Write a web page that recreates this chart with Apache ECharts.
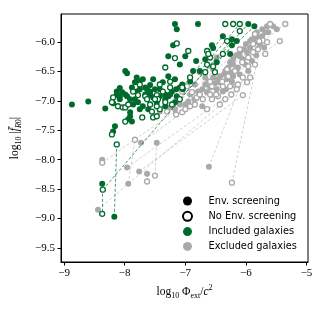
<!DOCTYPE html>
<html><head><meta charset="utf-8">
<script src="https://cdn.jsdelivr.net/npm/echarts@6/dist/echarts.min.js"></script>
<style>html,body{margin:0;padding:0;background:#fff}#c{width:324px;height:310px}</style>
</head><body><div id="c"></div>
<script>
const xTicks = [-9, -8, -7, -6, -5];
const yTicks = [-9.5, -9, -8.5, -8, -7.5, -7, -6.5, -6];
const legendLabels = ['Env. screening', 'No Env. screening', 'Included galaxies', 'Excluded galaxies'];

// Included galaxies, environmental screening (filled green)
const inclEnv = [[-7.17,-5.69],[-7.14,-5.78],[-6.79,-5.69],[-7.20,-6.05],[-7.28,-6.24],[-7.00,-6.24],[-7.09,-6.38],[-7.99,-6.49],[-7.96,-6.53],[-7.80,-6.60],[-7.76,-6.67],[-7.83,-6.68],[-7.70,-6.63],[-7.53,-6.63],[-7.37,-6.68],[-7.28,-6.58],[-7.58,-6.73],[-8.08,-6.78],[-8.13,-6.84],[-8.04,-6.85],[-8.13,-6.90],[-8.19,-7.04],[-7.96,-6.92],[-7.91,-6.97],[-7.80,-6.84],[-7.63,-6.80],[-7.83,-6.97],[-7.58,-6.84],[-7.53,-6.94],[-7.47,-7.02],[-7.33,-6.89],[-7.28,-6.92],[-7.22,-6.84],[-7.14,-6.92],[-7.17,-7.02],[-7.05,-6.72],[-7.04,-6.80],[-8.87,-7.06],[-8.60,-7.01],[-8.32,-7.13],[-7.70,-7.09],[-7.75,-7.14],[-7.33,-7.09],[-7.91,-7.26],[-7.94,-7.31],[-8.16,-7.43],[-8.19,-7.52],[-6.56,-6.05],[-6.54,-6.10],[-6.38,-5.90],[-6.15,-5.98],[-6.23,-6.05],[-6.26,-6.20],[-5.96,-5.69],[-5.86,-5.73],[-6.48,-6.34],[-6.76,-6.49],[-6.87,-6.49],[-8.37,-8.41],[-8.17,-8.97],[-7.66,-6.89],[-7.42,-6.80],[-7.17,-6.63],[-6.92,-6.67],[-6.82,-6.32],[-6.67,-6.29],[-6.23,-5.95],[-7.91,-7.19],[-7.88,-7.35],[-8.08,-6.92],[-8.08,-6.97],[-7.99,-6.89],[-7.88,-6.77],[-7.75,-6.80],[-7.66,-6.77],[-7.58,-6.89],[-7.50,-6.80],[-7.42,-6.92],[-7.33,-6.97],[-7.25,-6.89],[-7.15,-6.80],[-7.09,-6.77],[-7.86,-7.06],[-7.78,-7.02],[-7.61,-7.14]];
// Included galaxies, no environmental screening (hollow green)
const inclNoEnv = [[-7.14,-6.02],[-6.95,-6.15],[-7.17,-6.27],[-7.33,-6.43],[-7.25,-6.67],[-7.42,-6.72],[-7.75,-6.72],[-8.19,-6.94],[-8.11,-7.09],[-8.03,-7.11],[-8.21,-7.02],[-7.66,-6.92],[-7.47,-6.90],[-7.45,-6.97],[-7.86,-6.84],[-7.63,-6.97],[-7.37,-6.84],[-7.42,-7.14],[-7.58,-7.06],[-7.55,-7.18],[-7.47,-7.09],[-7.99,-7.35],[-8.21,-7.57],[-7.71,-7.28],[-7.53,-7.28],[-7.47,-7.26],[-6.92,-6.60],[-6.64,-6.38],[-6.59,-6.26],[-6.34,-5.69],[-6.21,-5.69],[-6.10,-5.69],[-6.10,-5.81],[-6.31,-5.98],[-6.64,-6.15],[-6.62,-6.20],[-6.38,-6.20],[-6.54,-6.41],[-6.67,-6.51],[-6.51,-6.51],[-7.05,-6.77],[-8.13,-7.74],[-8.36,-8.51],[-8.37,-8.92],[-7.22,-7.06],[-7.09,-6.97],[-7.99,-7.11],[-7.94,-7.06],[-7.78,-6.90],[-7.50,-6.97],[-7.33,-7.02],[-7.25,-6.77]];
// Excluded galaxies, environmental screening (filled gray)
const exclEnv = [[-5.65,-5.73],[-5.55,-5.73],[-5.68,-5.83],[-5.73,-5.90],[-5.80,-5.91],[-5.85,-6.00],[-5.93,-6.09],[-5.98,-6.17],[-6.05,-6.29],[-6.10,-6.24],[-6.15,-6.46],[-6.21,-6.58],[-6.26,-6.51],[-6.31,-6.63],[-6.43,-6.68],[-6.48,-6.80],[-6.64,-6.85],[-6.72,-7.09],[-6.38,-6.84],[-6.26,-6.34],[-6.21,-6.29],[-6.43,-6.58],[-6.54,-6.60],[-6.62,-6.67],[-6.76,-6.51],[-6.67,-6.60],[-6.54,-6.46],[-6.84,-6.72],[-6.72,-6.80],[-7.17,-7.14],[-6.48,-6.26],[-5.49,-5.78],[-5.77,-6.03],[-5.90,-5.95],[-6.01,-6.38],[-6.13,-6.43],[-6.34,-6.49],[-6.92,-6.89],[-7.00,-7.06],[-8.37,-8.00],[-7.96,-8.13],[-7.76,-8.20],[-7.63,-8.24],[-7.94,-8.41],[-7.73,-7.71],[-7.47,-7.71],[-8.44,-8.85],[-6.61,-8.12],[-5.73,-5.78],[-5.63,-5.83],[-5.82,-5.83],[-5.85,-5.91],[-5.93,-5.98],[-6.00,-6.03],[-6.03,-6.12],[-6.10,-6.17],[-6.16,-6.22],[-6.21,-6.38],[-6.29,-6.43],[-6.36,-6.55],[-6.46,-6.63],[-6.51,-6.70],[-6.59,-6.77],[-6.67,-6.72],[-6.79,-6.84],[-6.85,-6.97],[-6.95,-7.01],[-7.09,-7.06],[-7.25,-7.11],[-7.42,-7.18],[-5.70,-6.09],[-5.83,-6.22],[-5.90,-6.32],[-5.96,-6.49],[-6.10,-6.55],[-6.23,-6.67],[-6.33,-6.80]];
// Excluded galaxies, no environmental screening (hollow gray)
const exclNoEnv = [[-5.60,-5.69],[-5.35,-5.69],[-5.72,-5.97],[-5.65,-6.00],[-5.44,-5.98],[-5.88,-6.17],[-5.96,-6.41],[-6.38,-6.75],[-6.56,-6.75],[-6.71,-6.97],[-6.05,-6.60],[-5.98,-6.68],[-6.16,-6.75],[-6.15,-6.80],[-6.05,-6.90],[-6.56,-6.97],[-6.64,-7.14],[-6.10,-6.12],[-6.31,-6.46],[-6.46,-6.92],[-6.34,-6.97],[-6.26,-6.75],[-6.59,-6.67],[-6.97,-6.75],[-7.05,-6.84],[-6.89,-6.85],[-7.14,-6.94],[-6.81,-6.94],[-7.20,-7.06],[-6.92,-7.09],[-7.30,-7.18],[-7.05,-7.19],[-5.85,-5.86],[-5.80,-6.12],[-8.37,-8.05],[-7.63,-8.37],[-7.50,-8.27],[-7.83,-7.66],[-6.23,-8.39],[-5.78,-5.98],[-5.88,-6.03],[-5.96,-6.26],[-6.06,-6.34],[-6.18,-6.49],[-6.29,-6.58],[-6.39,-6.67],[-6.49,-6.89],[-6.59,-6.89],[-6.76,-6.89],[-6.84,-7.06],[-7.00,-7.14],[-7.15,-7.23],[-5.68,-6.20],[-5.85,-6.38],[-5.93,-6.60],[-6.13,-6.72],[-6.24,-6.89],[-6.43,-7.06]];
// Dashed links between screened / unscreened values of the same galaxy
const inclLinks = [[[-8.37,-8.41],[-8.37,-8.92]],[[-8.17,-8.97],[-8.13,-7.74]],[[-8.36,-8.51],[-6.23,-5.95]],[[-6.76,-6.49],[-6.10,-5.69]],[[-7.09,-6.97],[-5.96,-5.69]],[[-6.67,-6.51],[-5.86,-5.73]],[[-6.54,-6.41],[-6.15,-5.98]],[[-7.05,-6.77],[-6.38,-5.90]]];
const exclLinks = [[[-7.94,-8.41],[-7.83,-7.66]],[[-7.50,-8.27],[-7.47,-7.71]],[[-7.63,-8.24],[-7.63,-8.37]],[[-8.44,-8.85],[-5.98,-6.68]],[[-7.96,-8.13],[-6.15,-6.80]],[[-7.76,-8.20],[-6.05,-6.90]],[[-6.61,-8.12],[-5.88,-6.17]],[[-6.23,-8.39],[-5.73,-5.90]],[[-5.44,-5.98],[-7.73,-7.71]],[[-5.35,-5.69],[-7.17,-7.14]],[[-8.37,-8.05],[-6.26,-6.51]],[[-7.30,-7.18],[-5.65,-5.73]]];

const GREEN = '#006a2c', GRAY = '#a9a9a9', GRAYLINE = '#bdbdbd';
const serif = 'Liberation Serif';
const minus = v => (v < 0 ? '\u2212' : '') + Math.abs(v);

const chart = echarts.init(document.getElementById('c'), null, {renderer: 'canvas'});
const mathRich = {
  t: {fontFamily: serif, fontSize: 11.5, lineHeight: 16, color: '#000'},
  i: {fontFamily: serif, fontSize: 11.5, lineHeight: 16, fontStyle: 'italic', color: '#000'},
  s: {fontFamily: serif, fontSize: 8, lineHeight: 8, verticalAlign: 'bottom', color: '#000'},
  si: {fontFamily: serif, fontSize: 8, lineHeight: 8, verticalAlign: 'bottom', fontStyle: 'italic', color: '#000'},
  p: {fontFamily: serif, fontSize: 8, lineHeight: 8, verticalAlign: 'top', color: '#000'}
};
function scatter(name, data, color, hollow, z) {
  return {
    type: 'scatter', name: name, data: data, z: z, silent: true,
    symbol: 'circle', symbolSize: hollow ? 5 : 6,
    itemStyle: hollow ? {color: '#fff', borderColor: color, borderWidth: 1.3, opacity: 1}
                      : {color: color, opacity: 1}
  };
}
function links(data, color, z) {
  return {
    type: 'lines', coordinateSystem: 'cartesian2d', silent: true, z: z,
    data: data.map(p => ({coords: p})),
    lineStyle: {color: color, width: 0.7, type: [3, 2], opacity: 1}
  };
}
chart.setOption({
  animation: false,
  grid: {left: 61, top: 14, width: 247, height: 248, show: true, borderColor: '#000', borderWidth: 1, backgroundColor: 'transparent'},
  xAxis: {
    type: 'value', min: -9.05, max: -4.975,
    axisLine: {show: true, onZero: false, lineStyle: {color: '#000', width: 1}},
    axisTick: {show: true, length: 3.5, lineStyle: {color: '#000', width: 1}, customValues: xTicks},
    axisLabel: {customValues: xTicks, formatter: v => minus(v), color: '#000', fontFamily: serif, fontSize: 11, margin: 6},
    splitLine: {show: false},
    name: '{t|log}{s|10}{t| \u03A6}{s|ext}{t|/}{i|c}{p|2}',
    nameLocation: 'middle', nameGap: 18,
    nameTextStyle: {rich: mathRich}
  },
  yAxis: {
    type: 'value', min: -9.74, max: -5.52,
    axisLine: {show: true, onZero: false, lineStyle: {color: '#000', width: 1}},
    axisTick: {show: true, length: 3.5, lineStyle: {color: '#000', width: 1}, customValues: yTicks},
    axisLabel: {customValues: yTicks, formatter: v => (v < 0 ? '\u2212' : '') + Math.abs(v).toFixed(1), color: '#000', fontFamily: serif, fontSize: 11, margin: 6},
    splitLine: {show: false},
    name: '{t|log}{s|10}{t| |}{i|f\u0304}{si|R}{s|0}{t||}',
    nameLocation: 'middle', nameGap: 38, nameRotate: 90,
    nameTextStyle: {rich: mathRich}
  },
  legend: {
    orient: 'vertical', left: 177, top: 191,
    itemWidth: 32, itemHeight: 9, itemGap: 4.8,
    selectedMode: false,
    textStyle: {fontFamily: 'DejaVu Sans', fontSize: 9.8, color: '#000'},
    data: legendLabels.map(n => ({name: n, icon: 'circle'}))
  },
  series: [
    links(exclLinks, GRAYLINE, 1),
    scatter('exclEnv', exclEnv, GRAY, false, 2),
    scatter('exclNoEnv', exclNoEnv, GRAY, true, 2),
    links(inclLinks, GREEN, 3),
    scatter('inclEnv', inclEnv, GREEN, false, 4),
    scatter('inclNoEnv', inclNoEnv, GREEN, true, 4),
    {type: 'scatter', name: legendLabels[0], data: [], itemStyle: {color: '#000', opacity: 1}},
    {type: 'scatter', name: legendLabels[1], data: [], itemStyle: {color: '#fff', borderColor: '#000', borderWidth: 1.8, opacity: 1}},
    {type: 'scatter', name: legendLabels[2], data: [], itemStyle: {color: GREEN, opacity: 1}},
    {type: 'scatter', name: legendLabels[3], data: [], itemStyle: {color: GRAY, opacity: 1}}
  ]
});
</script>
</body></html>
